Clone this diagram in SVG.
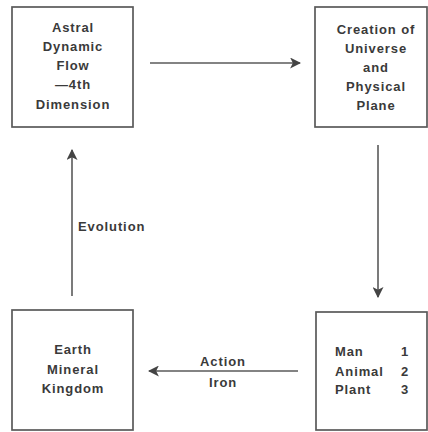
<svg xmlns="http://www.w3.org/2000/svg" width="428" height="432" viewBox="0 0 428 432">
<defs>
<style>
.box{fill:#fff;stroke:#5a5a5a;stroke-width:1.7}
.t{font-family:"Liberation Sans",Arial,sans-serif;font-size:13px;font-weight:bold;fill:#3a3a3a;letter-spacing:0.9px}
.c{text-anchor:middle}
.ln{stroke:#5a5a5a;stroke-width:1.6;fill:none}
</style>
<marker id="ah" viewBox="0 0 10 10" refX="9" refY="5" markerWidth="11" markerHeight="11" markerUnits="userSpaceOnUse" orient="auto">
<path d="M0,0 L10,5 L0,10 L2.5,5 z" fill="#444"/>
</marker>
</defs>
<rect width="428" height="432" fill="#fff"/>
<g id="connectors">
<line class="ln" x1="150" y1="63" x2="300" y2="63" marker-end="url(#ah)"/>
<line class="ln" x1="378" y1="145" x2="378" y2="297" marker-end="url(#ah)"/>
<line class="ln" x1="298" y1="371" x2="149" y2="371" marker-end="url(#ah)"/>
<line class="ln" x1="72" y1="296" x2="72" y2="150" marker-end="url(#ah)"/>
<text class="t c" x="223" y="366">Action</text>
<text class="t c" x="223" y="387">Iron</text>
<text class="t" x="78" y="231">Evolution</text>
</g>
<g id="astral">
<rect class="box" x="12" y="7" width="121" height="120"/>
<text class="t c" x="73" y="32">Astral</text>
<text class="t c" x="73" y="51">Dynamic</text>
<text class="t c" x="73" y="70">Flow</text>
<text class="t c" x="73" y="89">—4th</text>
<text class="t c" x="73" y="109">Dimension</text>
</g>
<g id="creation">
<rect class="box" x="315" y="7" width="112" height="120"/>
<text class="t c" x="376" y="34">Creation of</text>
<text class="t c" x="376" y="53">Universe</text>
<text class="t c" x="376" y="72">and</text>
<text class="t c" x="376" y="91">Physical</text>
<text class="t c" x="376" y="110">Plane</text>
</g>
<g id="earth">
<rect class="box" x="12" y="310" width="121" height="120"/>
<text class="t c" x="73" y="354">Earth</text>
<text class="t c" x="73" y="374">Mineral</text>
<text class="t c" x="73" y="393">Kingdom</text>
</g>
<g id="beings">
<rect class="box" x="316" y="312" width="111" height="118"/>
<text class="t" x="335" y="356">Man</text>
<text class="t" x="401" y="356">1</text>
<text class="t" x="335" y="376">Animal</text>
<text class="t" x="401" y="376">2</text>
<text class="t" x="335" y="394">Plant</text>
<text class="t" x="401" y="394">3</text>
</g>
</svg>
